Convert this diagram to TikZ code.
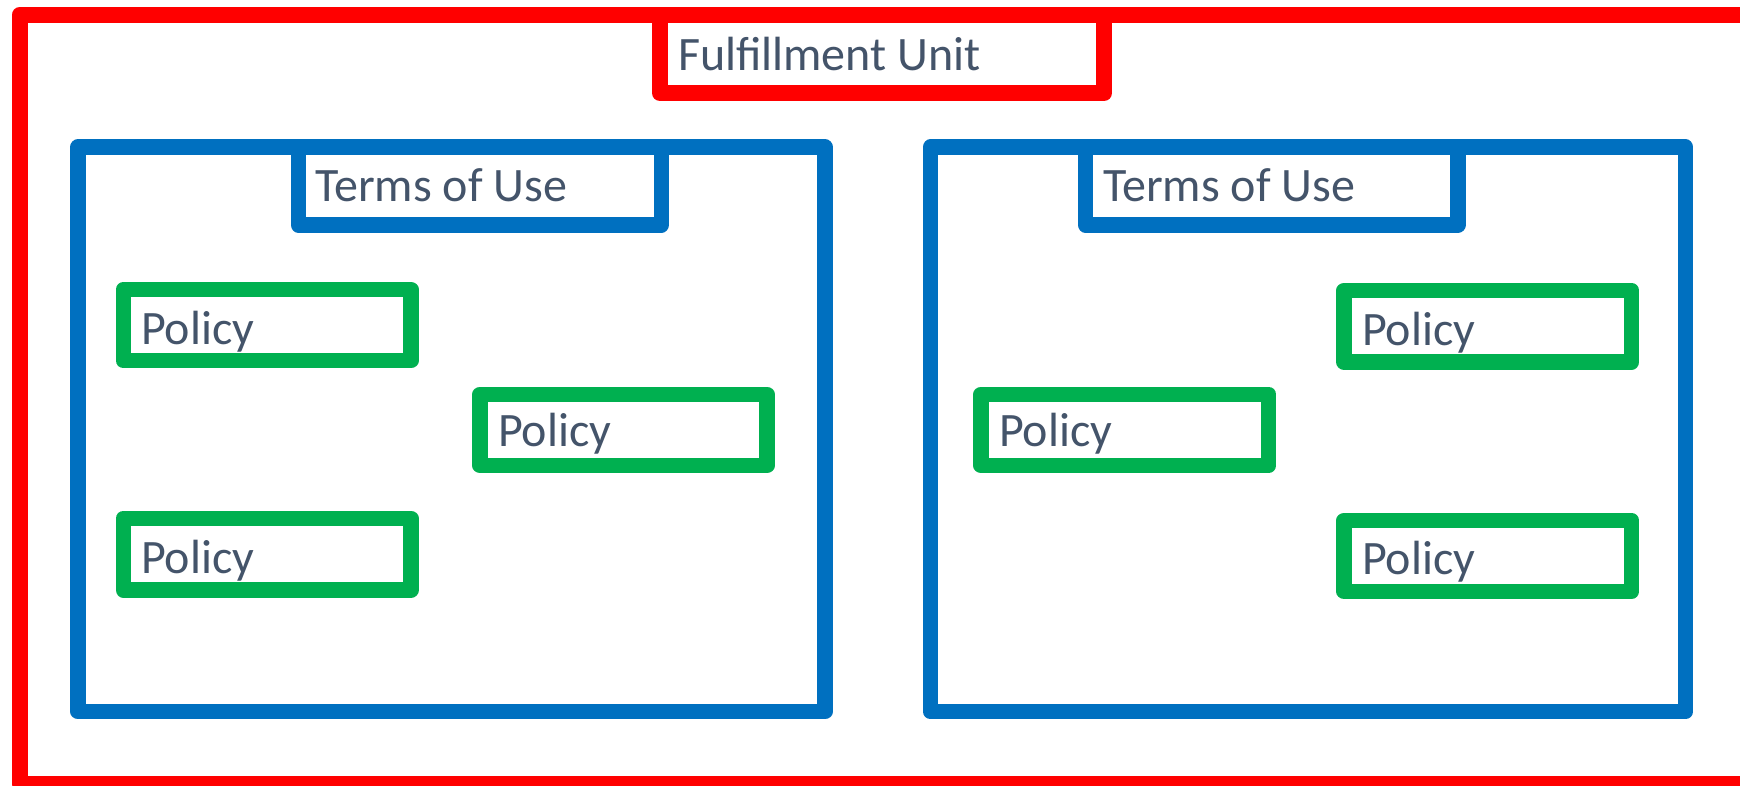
\documentclass[tikz,border=0pt]{standalone}
\usepackage{fontspec}
\setmainfont{Carlito}
\definecolor{fured}{HTML}{FF0000}
\definecolor{toublue}{HTML}{0070C0}
\definecolor{polgreen}{HTML}{00B050}
\definecolor{txtgray}{HTML}{44546A}
\begin{document}
\begin{tikzpicture}[x=1pt,y=-1pt,
  frame/.style={draw, rectangle, inner sep=0pt, outer sep=0pt, line join=round},
  redbox/.style={frame, draw=fured, line width=16pt},
  bluebox/.style={frame, draw=toublue, line width=15.5pt},
  greenbox/.style={frame, draw=polgreen, line width=15.5pt},
  lbl/.style={anchor=base west, inner sep=0pt, outer sep=0pt, text=txtgray, font=\fontsize{48}{58}\selectfont}
]
\useasboundingbox (0,0) rectangle (1740,785);
\clip (0,0) rectangle (1740,785);
\fill[white] (0,0) rectangle (1740,785);
% outer fulfillment unit
\node[redbox, minimum width=1740.5pt, minimum height=769pt] (fu) at (889.75,399.5) {};
\node[redbox, minimum width=444pt, minimum height=78pt] (futab) at (882,54) {};
\node[lbl] (futxt) at (678,70) {Fulfillment Unit};
% terms of use boxes
\node[bluebox, minimum width=747pt, minimum height=564.5pt] (tou1) at (451.5,429.45) {};
\node[bluebox, minimum width=363pt, minimum height=77.5pt] (tou1tab) at (479.8,186) {};
\node[lbl] (tou1txt) at (315,201.7) {Terms of Use};
\node[bluebox, minimum width=755pt, minimum height=564.5pt] (tou2) at (1308,429.45) {};
\node[bluebox, minimum width=372.5pt, minimum height=77.5pt] (tou2tab) at (1271.75,186) {};
\node[lbl] (tou2txt) at (1103,201.7) {Terms of Use};
% policies left
\node[greenbox, minimum width=287.6pt, minimum height=71.2pt] (pl1) at (267.2,325.1) {};
\node[lbl] (pl1txt) at (141,344) {Policy};
\node[greenbox, minimum width=287pt, minimum height=71.2pt] (pl2) at (623.5,429.9) {};
\node[lbl] (pl2txt) at (498,446.7) {Policy};
\node[greenbox, minimum width=287.6pt, minimum height=71.7pt] (pl3) at (267.2,554.15) {};
\node[lbl] (pl3txt) at (141,573.3) {Policy};
% policies right
\node[greenbox, minimum width=287.7pt, minimum height=71.5pt] (pr1) at (1487.85,326.25) {};
\node[lbl] (pr1txt) at (1362,345) {Policy};
\node[greenbox, minimum width=287.7pt, minimum height=71.2pt] (pr2) at (1124.85,429.9) {};
\node[lbl] (pr2txt) at (999,446.7) {Policy};
\node[greenbox, minimum width=287.7pt, minimum height=70.8pt] (pr3) at (1487.85,555.9) {};
\node[lbl] (pr3txt) at (1362,574.5) {Policy};
\end{tikzpicture}
\end{document}
